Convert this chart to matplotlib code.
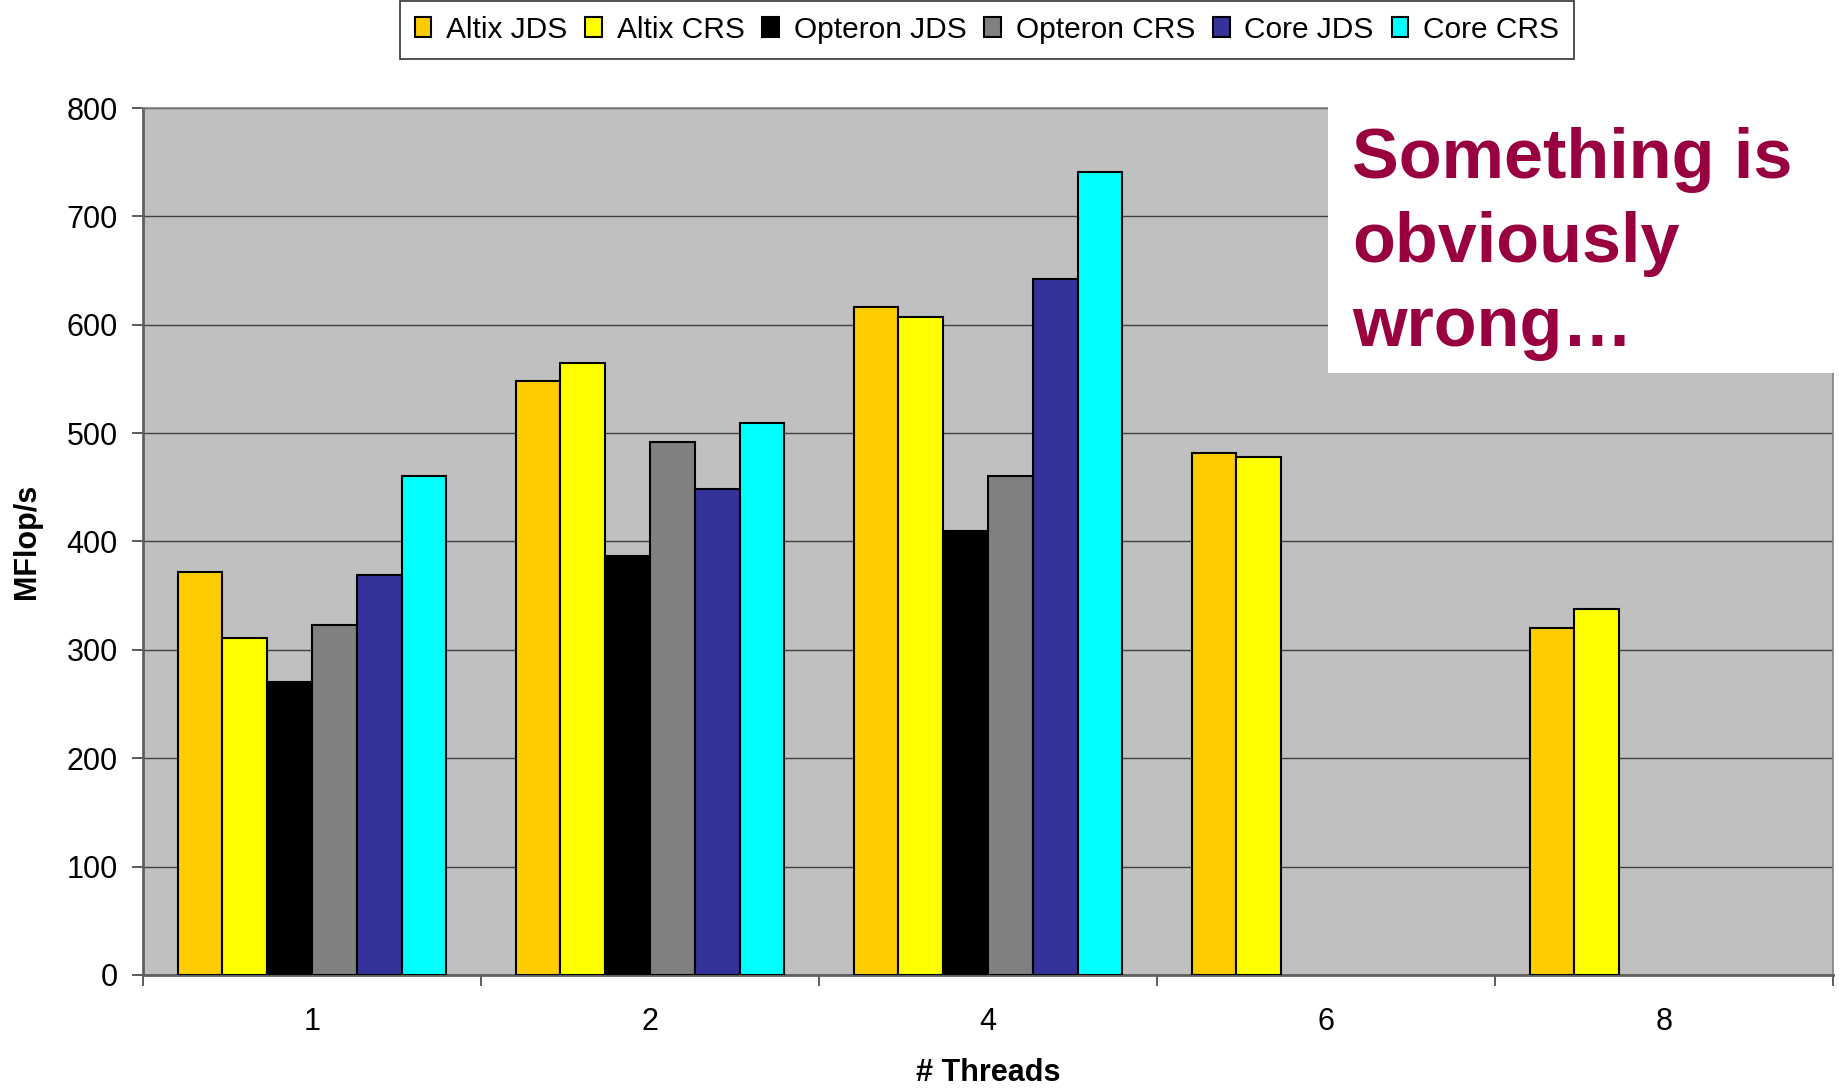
import numpy as np
import matplotlib
matplotlib.use("Agg")
import matplotlib.pyplot as plt
from matplotlib.patches import Rectangle

plt.rcParams['font.family'] = ['Liberation Sans', 'DejaVu Sans']

# Thread counts (categories) and measured throughput per machine / storage format
threads = ["1", "2", "4", "6", "8"]
series_names = ["Altix JDS", "Altix CRS", "Opteron JDS", "Opteron CRS", "Core JDS", "Core CRS"]
altix_jds = [372, 548, 616, 482, 320]
altix_crs = [311, 565, 607, 478, 338]
opteron_jds = [270, 387, 410, np.nan, np.nan]
opteron_crs = [323, 492, 460, np.nan, np.nan]
core_jds = [369, 448, 642, np.nan, np.nan]
core_crs = [460, 509, 741, np.nan, np.nan]
series_values = [altix_jds, altix_crs, opteron_jds, opteron_crs, core_jds, core_crs]
series_colors = ["#FFCC00", "#FFFF00", "#000000", "#808080", "#333399", "#00FFFF"]
y_ticks = [0, 100, 200, 300, 400, 500, 600, 700, 800]

fig = plt.figure(figsize=(18.4, 10.88), dpi=100)
ax = fig.add_axes([0.0777, 0.1039, 0.9185, 0.7968])
ax.set_facecolor("#C0C0C0")

x = np.arange(len(threads))
n = len(series_names)
bw = 0.1326
handles = []
for i, (name, vals, col) in enumerate(zip(series_names, series_values, series_colors)):
    vals = np.asarray(vals, dtype=float)
    mask = ~np.isnan(vals)
    offs = (i - (n - 1) / 2) * bw
    b = ax.bar(x[mask] + offs, vals[mask], width=bw, color=col,
               edgecolor="black", linewidth=1.5, zorder=3, label=name)
    handles.append(b)

ax.set_xlim(-0.5, len(threads) - 0.5)
ax.set_ylim(0, 800)
ax.set_yticks(y_ticks)
ax.set_yticklabels([str(v) for v in y_ticks])
ax.yaxis.grid(True, color="#404040", linewidth=1.0, zorder=1)
ax.set_axisbelow(True)

ax.set_xticks(x)
ax.set_xticklabels(threads)
ax.set_xticks(np.arange(-0.5, len(threads)), minor=True)
ax.tick_params(axis="x", which="major", length=0, pad=23, labelsize=22)
ax.tick_params(axis="x", which="minor", length=8, width=1.2, color="#404040")
ax.tick_params(axis="y", length=8, width=1.2, color="#404040", pad=10, labelsize=22)

for side in ["top", "right"]:
    ax.spines[side].set_color("#808080")
    ax.spines[side].set_linewidth(1.2)
for side in ["left", "bottom"]:
    ax.spines[side].set_color("#606060")
    ax.spines[side].set_linewidth(2)

ax.set_xlabel("# Threads", fontsize=22, fontweight="bold")
ax.xaxis.set_label_coords(0.5, -0.096)
ax.set_ylabel("MFlop/s", fontsize=22, fontweight="bold")
ax.yaxis.set_label_coords(-0.0595, 0.5)

leg = fig.legend(handles=handles, labels=series_names, loc="center",
                 bbox_to_anchor=(0.5364, 0.9725), ncol=6, fontsize=21.5,
                 frameon=True, fancybox=False, edgecolor="black",
                 handlelength=0.55, handleheight=0.65, handletextpad=0.5,
                 columnspacing=0.6, borderpad=0.5, borderaxespad=0)
leg.get_frame().set_linewidth(1.2)

# Annotation box over the upper-right corner of the plot
fig.add_artist(Rectangle((0.7217, 0.657), 0.2783, 0.2453, transform=fig.transFigure,
                         facecolor="white", edgecolor="none", zorder=5))
note_color = "#990040"
note_lines = ["Something is", "obviously", "wrong\u2026"]
baselines_px = [178, 262, 346]
for line, yb in zip(note_lines, baselines_px):
    fig.text(1352 / 1840, 1 - yb / 1088, line, fontsize=50.5, fontweight="bold",
             color=note_color, ha="left", va="baseline", zorder=6)

fig.savefig("out.png", dpi=100, facecolor="white")
